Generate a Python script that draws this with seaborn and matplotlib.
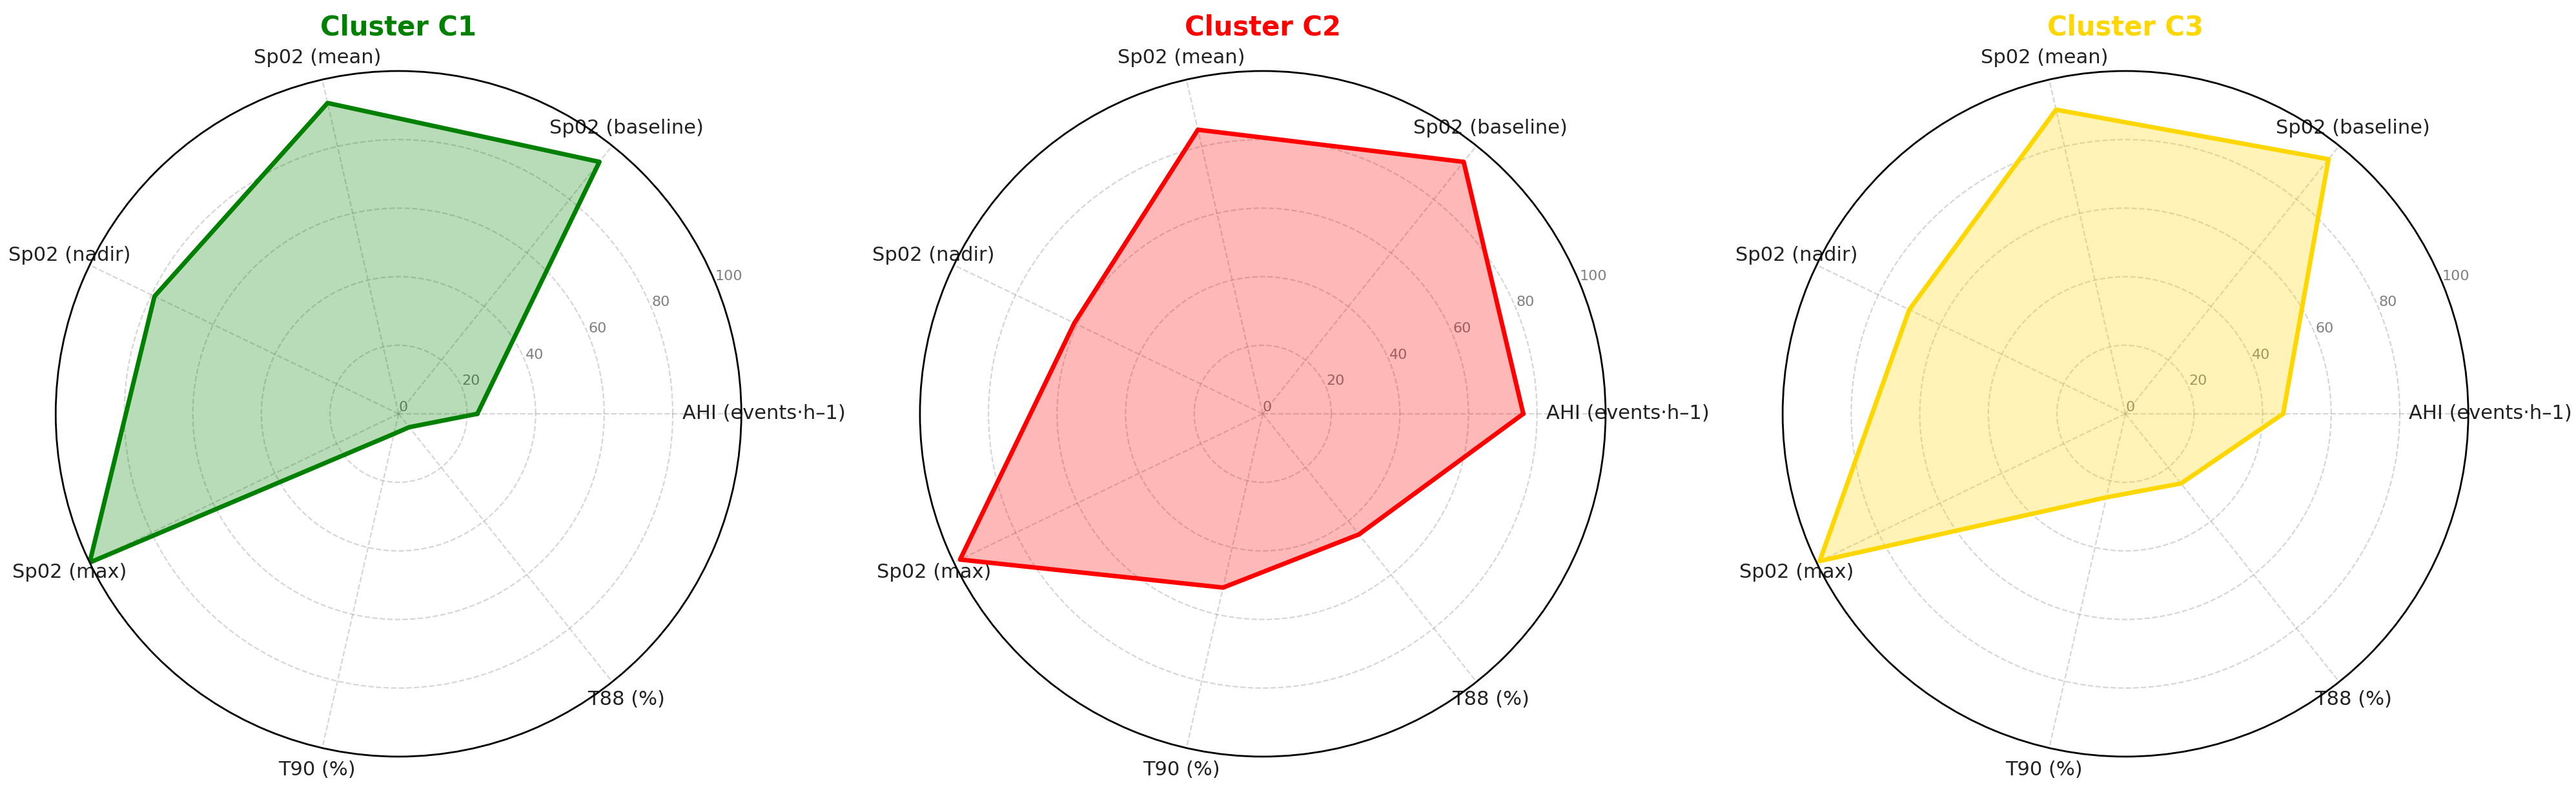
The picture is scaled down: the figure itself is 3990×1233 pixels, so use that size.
import numpy as np
import matplotlib
matplotlib.use("Agg")
import matplotlib.pyplot as plt
import seaborn as sns

categories = ["AHI (events·h–1)", "Sp02 (baseline)", "Sp02 (mean)", "Sp02 (nadir)",
              "Sp02 (max)", "T90 (%)", "T88 (%)"]
c1_values = [23, 94, 93, 79, 100, 6, 5]
c2_values = [76, 94, 85, 61, 98, 52, 45]
c3_values = [46, 95, 91, 70, 99, 25, 26]
cluster_names = ["Cluster C1", "Cluster C2", "Cluster C3"]
cluster_colors = ["green", "red", "gold"]
r_ticks = [0, 20, 40, 60, 80, 100]

sns.set_theme(style="white")
plt.rcParams['font.family'] = ['DejaVu Sans']

angles = list(np.linspace(0, 2 * np.pi, len(categories), endpoint=False))

fig = plt.figure(figsize=(19.95, 6.165), dpi=200)
lefts = [0.0216, 0.3571, 0.692]

all_values = [c1_values, c2_values, c3_values]
for i in range(3):
    ax = fig.add_axes([lefts[i], 0.0495, 0.2662, 0.8613], projection='polar')
    vals = all_values[i] + all_values[i][:1]
    ang = angles + angles[:1]
    sns.lineplot(x=ang, y=vals, ax=ax, color=cluster_colors[i], linewidth=2.5,
                 sort=False, estimator=None)
    ax.fill(ang, vals, color=cluster_colors[i], alpha=0.28)

    ax.set_xticks(angles)
    ax.set_xticklabels(categories, fontsize=11, color='#222222')
    ax.tick_params(axis='x', pad=-0.5)
    ax.set_ylim(0, 100)
    ax.set_yticks(r_ticks)
    ax.set_yticklabels([str(t) for t in r_ticks], fontsize=8, color='gray')
    ax.grid(True, linestyle='--', color='gray', alpha=0.32, linewidth=0.8)
    ax.spines['polar'].set_color('black')
    ax.spines['polar'].set_linewidth(1)
    ax.set_xlabel("")
    ax.set_ylabel("")
    ax.set_title(cluster_names[i], color=cluster_colors[i], fontsize=15,
                 fontweight='bold', pad=20)

plt.savefig("out.png", dpi=200)
